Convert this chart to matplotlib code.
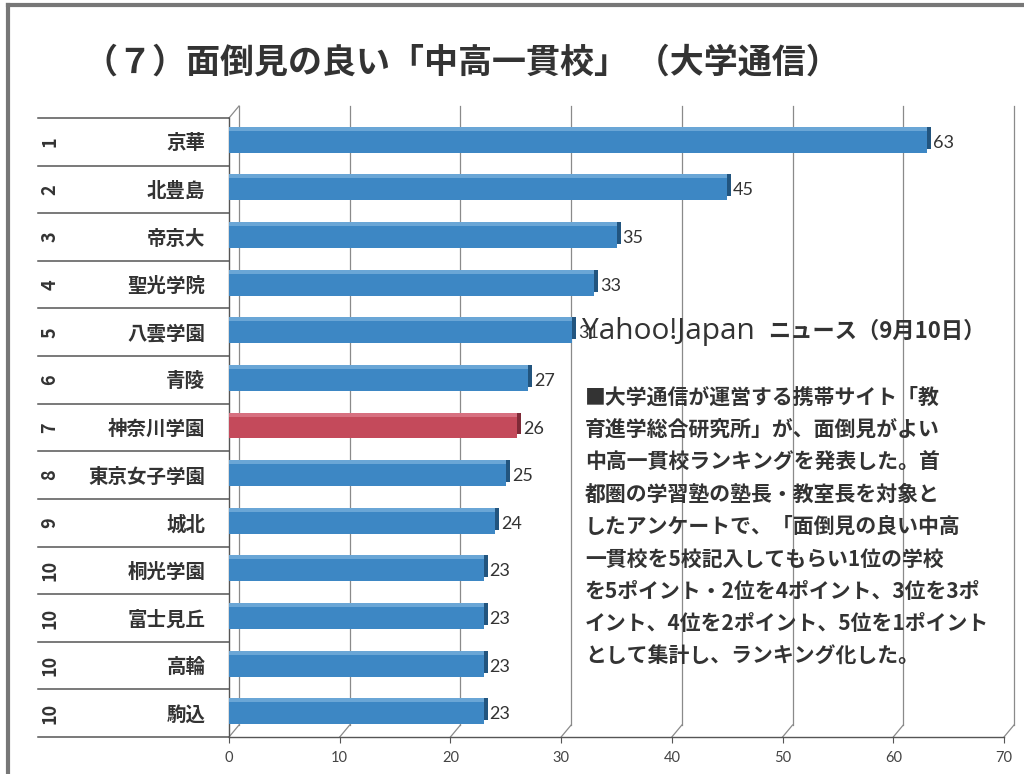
import matplotlib
matplotlib.use('Agg')
import matplotlib.pyplot as plt
from matplotlib.transforms import ScaledTranslation, blended_transform_factory
from matplotlib.lines import Line2D

plt.rcParams['font.family'] = ['Noto Sans CJK JP', 'DejaVu Sans']

# data
ranks = ['1', '2', '3', '4', '5', '6', '7', '8', '9', '10', '10', '10', '10']
schools = ['京華', '北豊島', '帝京大', '聖光学院', '八雲学園', '青陵', '神奈川学園',
           '東京女子学園', '城北', '桐光学園', '富士見丘', '高輪', '駒込']
points = [63, 45, 35, 33, 31, 27, 26, 25, 24, 23, 23, 23, 23]
highlight = '神奈川学園'
x_ticks = [0, 10, 20, 30, 40, 50, 60, 70]

title = '（７）面倒見の良い「中高一貫校」 （大学通信）'
source_en = 'Yahoo!Japan'
source_jp = 'ニュース（9月10日）'
body = ['■大学通信が運営する携帯サイト「教',
        '育進学総合研究所」が、面倒見がよい',
        '中高一貫校ランキングを発表した。首',
        '都圏の学習塾の塾長・教室長を対象と',
        'したアンケートで、「面倒見の良い中高',
        '一貫校を5校記入してもらい1位の学校',
        'を5ポイント・2位を4ポイント、3位を3ポ',
        'イント、4位を2ポイント、5位を1ポイント',
        'として集計し、ランキング化した。']

W, H = 1024, 774
fig = plt.figure(figsize=(W / 100, H / 100), dpi=100)
ax = fig.add_axes([229 / W, 37 / H, 775 / W, 619 / H])

y = list(range(len(schools)))
front = ['#c44a5b' if s == highlight else '#3d87c4' for s in schools]
side = ['#7e2a37' if s == highlight else '#22557f' for s in schools]
top = ['#d77080' if s == highlight else '#6aa6d6' for s in schools]

depth = ScaledTranslation(4 / 100, 4 / 100, fig.dpi_scale_trans)
lift = ScaledTranslation(0, 4 / 100, fig.dpi_scale_trans)
back = ScaledTranslation(10 / 100, 12 / 100, fig.dpi_scale_trans)

# back wall gridlines and floor edges
grid_c = '#8a8a8a'
for t in x_ticks:
    ax.plot([t, t], [0, 1], transform=ax.get_xaxis_transform() + back,
            color=grid_c, lw=0.9, clip_on=False, zorder=0)
dx, dy = 10 / 775, 12 / 619
for t in x_ticks:
    fx = t / 70
    ax.plot([fx, fx + dx], [0, dy], transform=ax.transAxes, color=grid_c,
            lw=0.9, clip_on=False, zorder=0)
ax.plot([0, dx], [1, 1 + dy], transform=ax.transAxes, color=grid_c,
        lw=0.9, clip_on=False, zorder=0)

# 3d-ish bars
ax.barh(y, points, height=0.46, color=side, transform=ax.transData + depth,
        clip_on=False, zorder=2)
ax.barh(y, points, height=0.46, color=top, transform=ax.transData + lift,
        clip_on=False, zorder=3)
ax.barh(y, points, height=0.46, color=front, clip_on=False, zorder=4)

lab_off = ScaledTranslation(6 / 100, -1 / 100, fig.dpi_scale_trans)
for yi, v in zip(y, points):
    ax.text(v, yi, str(v), transform=ax.transData + lab_off, ha='left',
            va='center', fontsize=13, family=['Lato', 'DejaVu Sans'],
            color='#333333', zorder=5)

ax.set_xlim(0, 70)
ax.set_ylim(len(schools) - 0.5, -0.5)
ax.set_xticks(x_ticks)
ax.set_xticklabels([str(t) for t in x_ticks], fontsize=10.5,
                   family=['Lato', 'DejaVu Sans'], color='#444444')
ax.tick_params(axis='x', direction='out', length=4, color='#555555', pad=6)
ax.set_yticks(y)
ax.set_yticklabels(schools, fontsize=14, fontweight='bold', color='#333333')
ax.tick_params(axis='y', length=0, pad=17)
for s in ['top', 'right']:
    ax.spines[s].set_visible(False)
ax.spines['left'].set_color('#555555')
ax.spines['bottom'].set_color('#555555')
ax.spines['left'].set_linewidth(1.0)
ax.spines['bottom'].set_linewidth(1.0)
ax.set_facecolor('none')

# rank column and row separators
bt = blended_transform_factory(ax.transAxes, ax.transData)
for yi, r in zip(y, ranks):
    ax.text(-0.231, yi, r, transform=bt, rotation=90, ha='center', va='center',
            fontsize=13, fontweight='bold', color='#333333', clip_on=False)
for b in range(len(schools) + 1):
    ax.add_line(Line2D([-0.246, 0], [b - 0.5, b - 0.5], transform=bt,
                       color='#555555', lw=1.1, clip_on=False))

# title and overlaid article text
fig.text(84 / W, 1 - 62 / H, title, fontsize=24.5, fontweight='bold',
         color='#333333', ha='left', va='center')
fig.text(582 / W, 1 - 331 / H, source_en, fontsize=21.5,
         family=['Open Sans', 'DejaVu Sans'], color='#333333', ha='left',
         va='center', zorder=10)
fig.text(768 / W, 1 - 331 / H, source_jp, fontsize=16, fontweight='bold',
         color='#333333', ha='left', va='center', zorder=10)
for i, line in enumerate(body):
    fig.text(585 / W, 1 - (397 + 32.4 * i) / H, line, fontsize=15,
             fontweight='bold', color='#333333', ha='left', va='center',
             zorder=10)

# scan frame
fig.add_artist(Line2D([8 / W, 8 / W], [0, 1 - 5 / H], transform=fig.transFigure,
                      color='#777777', lw=3))
fig.add_artist(Line2D([8 / W, 1], [1 - 5 / H, 1 - 5 / H],
                      transform=fig.transFigure, color='#777777', lw=3))

fig.savefig('out.png', dpi=100)
